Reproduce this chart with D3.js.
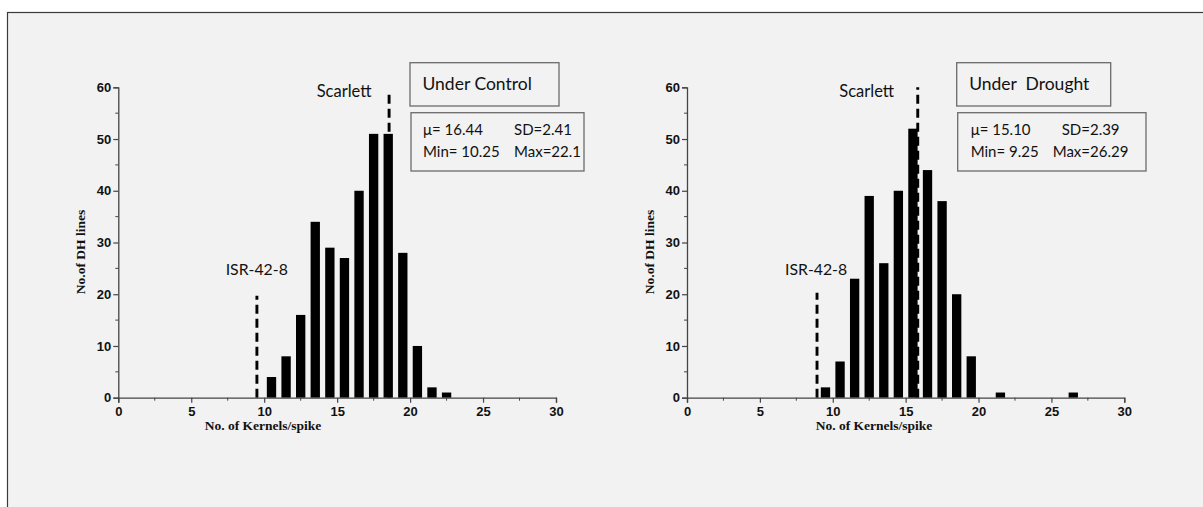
<!DOCTYPE html>
<html lang="en">
<head>
<meta charset="UTF-8">
<title>Kernels per spike</title>
<script src="https://d3js.org/d3.v7.min.js"></script>
<style>
  * { margin: 0; padding: 0; box-sizing: border-box; }
  body { background: #fff; width: 1203px; height: 507px; overflow: hidden; }
  svg { display: block; }
  .tick text { font-family: 'Liberation Sans', Arial, sans-serif; font-weight: bold; font-size: 13px; fill: #111; }
  .axis-title { font-family: 'Liberation Serif', 'Times New Roman', serif; font-weight: bold; font-size: 13.5px; fill: #111; }
  .note { font-family: Lato, 'Noto Sans', sans-serif; font-size: 15px; fill: #111; }
</style>
</head>
<body>
<svg id="chart" width="1203" height="507"></svg>
<script>
// bin centres (kernels/spike) and counts of DH lines
var controlBins = [10.5, 11.5, 12.5, 13.5, 14.5, 15.5, 16.5, 17.5, 18.5, 19.5, 20.5, 21.5, 22.5];
var controlCounts = [4, 8, 16, 34, 29, 27, 40, 51, 51, 28, 10, 2, 1];

var droughtBins = [9.5, 10.5, 11.5, 12.5, 13.5, 14.5, 15.5, 16.5, 17.5, 18.5, 19.5, 20.5, 21.5, 22.5, 23.5, 24.5, 25.5, 26.5];
var droughtCounts = [2, 7, 23, 39, 26, 40, 52, 44, 38, 20, 8, 0, 1, 0, 0, 0, 0, 1];

// parent markers: [x position, top of dashed line]
var controlMarkers = { isr: [9.5, 19.7], scarlett: [18.56, 59] };
var droughtMarkers = { isr: [8.92, 20.3], scarlett: [15.83, 60] };

var controlStats = ['\u03bc= 16.44', 'SD=2.41', 'Min= 10.25', 'Max=22.1'];
var droughtStats = ['\u03bc= 15.10', 'SD=2.39', 'Min= 9.25', 'Max=26.29'];

var xTicks = [0, 5, 10, 15, 20, 25, 30];
var yTicks = [0, 10, 20, 30, 40, 50, 60];
var barWidthUnits = 0.64;

var svg = d3.select('#chart');

// background panel with frame
svg.append('rect').attr('x', 0).attr('y', 0).attr('width', 1203).attr('height', 507).attr('fill', '#fff');
svg.append('rect')
  .attr('x', 7.5).attr('y', 12.5).attr('width', 1210).attr('height', 510)
  .attr('fill', '#f2f2f2').attr('stroke', '#3a3a3a').attr('stroke-width', 1.2);

function drawPanel(opt) {
  var x = d3.scaleLinear().domain([0, 30]).range([opt.x0, opt.x1]);
  var y = d3.scaleLinear().domain([0, 60]).range([397.7, 87.3]);
  var g = svg.append('g');

  // minor ticks
  var minorX = d3.range(2.5, 30, 5);
  var minorY = d3.range(5, 60, 10);
  g.append('g').selectAll('line').data(minorX).join('line')
    .attr('x1', function(d) { return x(d); }).attr('x2', function(d) { return x(d); })
    .attr('y1', y(0)).attr('y2', y(0) + 3)
    .attr('stroke', '#444').attr('stroke-width', 1);
  g.append('g').selectAll('line').data(minorY).join('line')
    .attr('y1', function(d) { return y(d); }).attr('y2', function(d) { return y(d); })
    .attr('x1', x(0)).attr('x2', x(0) - 3)
    .attr('stroke', '#444').attr('stroke-width', 1);

  // dashed marker lines
  [opt.markers.isr, opt.markers.scarlett].forEach(function(m) {
    g.append('line')
      .attr('x1', x(m[0])).attr('x2', x(m[0]))
      .attr('y1', y(0)).attr('y2', y(m[1]))
      .attr('stroke', '#000').attr('stroke-width', 2.9)
      .attr('stroke-dasharray', '9,5');
  });

  // bars
  g.append('g').selectAll('rect').data(opt.bins.map(function(b, i) { return [b, opt.counts[i]]; }).filter(function(d) { return d[1] > 0; }))
    .join('rect')
    .attr('x', function(d) { return x(d[0] - barWidthUnits / 2); })
    .attr('width', function(d) { return x(barWidthUnits) - x(0); })
    .attr('y', function(d) { return y(d[1]); })
    .attr('height', function(d) { return y(0) - y(d[1]); })
    .attr('fill', '#000');

  // axes
  var xAxis = g.append('g').attr('transform', 'translate(0,' + y(0) + ')')
    .call(d3.axisBottom(x).tickValues(xTicks).tickSize(5).tickPadding(4).tickFormat(d3.format('d')));
  var yAxis = g.append('g').attr('transform', 'translate(' + x(0) + ',0)')
    .call(d3.axisLeft(y).tickValues(yTicks).tickSize(5).tickPadding(2).tickFormat(d3.format('d')));
  [xAxis, yAxis].forEach(function(a) {
    a.select('.domain').attr('stroke', '#444').attr('stroke-width', 1.3);
    a.selectAll('.tick line').attr('stroke', '#444').attr('stroke-width', 1.2);
  });

  // axis titles
  g.append('text').attr('class', 'axis-title')
    .attr('x', opt.xTitleX).attr('y', 430).attr('text-anchor', 'middle')
    .text('No. of Kernels/spike');
  g.append('text').attr('class', 'axis-title')
    .attr('transform', 'translate(' + (opt.x0 - 33) + ',252) rotate(-90)')
    .attr('text-anchor', 'middle')
    .text('No.of DH lines');

  // parent labels
  g.append('text').attr('class', 'note').style('font-size', '16.5px').attr('x', opt.scarlettX).attr('y', 96.7).text('Scarlett');
  g.append('text').attr('class', 'note').style('font-size', '15.8px').attr('x', opt.isrX).attr('y', 275).text('ISR-42-8');

  // title box
  g.append('rect').attr('x', opt.titleBox[0]).attr('y', 62.7).attr('width', opt.titleBox[1] - opt.titleBox[0]).attr('height', 43.3)
    .attr('fill', '#f2f2f2').attr('stroke', '#6b6b6b').attr('stroke-width', 1.3);
  g.append('text').attr('class', 'note').attr('x', opt.titleBox[0] + 12.5).attr('y', 89.5)
    .style('font-size', '17.5px').attr('xml:space', 'preserve').text(opt.title);

  // stats box
  g.append('rect').attr('x', opt.statBox[0]).attr('y', 112.7).attr('width', opt.statBox[1] - opt.statBox[0]).attr('height', 58.3)
    .attr('fill', '#f2f2f2').attr('stroke', '#6b6b6b').attr('stroke-width', 1.3);
  var s = opt.stats;
  g.append('text').attr('class', 'note').attr('x', opt.statCols[0]).attr('y', 135).text(s[0]);
  g.append('text').attr('class', 'note').attr('x', opt.statCols[1]).attr('y', 135).text(s[1]);
  g.append('text').attr('class', 'note').attr('x', opt.statCols[0]).attr('y', 157).text(s[2]);
  g.append('text').attr('class', 'note').attr('x', opt.statCols[2]).attr('y', 157).text(s[3]);
}

drawPanel({
  x0: 118.3, x1: 556,
  bins: controlBins, counts: controlCounts, markers: controlMarkers,
  xTitleX: 263, scarlettX: 316.7, isrX: 225.7,
  title: 'Under Control', titleBox: [410, 559],
  statBox: [411, 584], stats: controlStats, statCols: [423, 514, 514]
});

drawPanel({
  x0: 687, x1: 1124.3,
  bins: droughtBins, counts: droughtCounts, markers: droughtMarkers,
  xTitleX: 874, scarlettX: 839.3, isrX: 785,
  title: 'Under  Drought', titleBox: [956.7, 1110.7],
  statBox: [957.7, 1146], stats: droughtStats, statCols: [970.7, 1061.7, 1052.7]
});
</script>
</body>
</html>
